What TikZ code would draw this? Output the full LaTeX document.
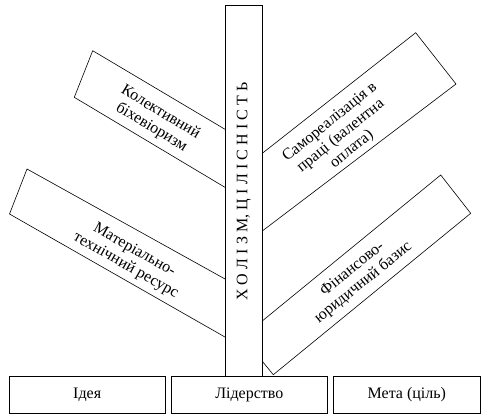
\documentclass[tikz,border=0pt]{standalone}
\usepackage{fontspec}
\setmainfont{Liberation Serif}
\newcommand\lsp{\hspace{4.2pt}}
\begin{document}
\begin{tikzpicture}[x=1pt,y=-1pt,
  line width=0.6pt,
  board/.style={draw=black, fill=white, line join=miter},
  boardtext/.style={font=\fontsize{16}{17.5}\selectfont, align=center, inner sep=0pt},
  basebox/.style={draw=black, fill=white},
  basetext/.style={font=\fontsize{16}{17.5}\selectfont, inner sep=0pt}]
\useasboundingbox (0,0) rectangle (481,415);
% boards (drawn first, the pole covers their inner ends)
\draw[board] (92.7,50.7) -- (74.3,97.3) -- (240,196.3) -- (240,138.2) -- cycle;
\draw[board] (27,169) -- (9.5,214) -- (240,345.6) -- (240,287.3) -- cycle;
\draw[board] (415.7,32.7) -- (456,84) -- (245,244.1) -- (245,166.9) -- cycle;
\draw[board] (440.7,175) -- (470.7,213.3) -- (273.3,374.7) -- (242.5,337.1) -- cycle;
\node[boardtext, rotate=-31] (ta) at (156,120) {Колективний\\біхевіоризм};
\node[boardtext, rotate=-29.5] (tb) at (130,258) {Матеріально-\\технічний ресурс};
\node[boardtext, rotate=39] (tc) at (341,136) {Самореалізація в\\праці (валентна\\оплата)};
\node[boardtext, rotate=39] (td) at (358,276) {Фінансово-\\юридичний базис};
% pole
\draw[board] (225.3,5) rectangle (262.3,376);
\node[boardtext, rotate=90] (pole) at (243.8,191.5) {Х\lsp О\lsp Л\lsp І\lsp З\lsp М,\lsp Ц\lsp І\lsp Л\lsp І\lsp С\lsp Н\lsp І\lsp С\lsp Т\lsp Ь};
% base boxes
\node[basebox, minimum width=155.7pt, minimum height=37pt, inner sep=0pt] (idea) at (87.15,394.5) {};
\node[basebox, minimum width=156pt, minimum height=37pt, inner sep=0pt] (lead) at (249.3,394.5) {};
\node[basebox, minimum width=146.3pt, minimum height=37pt, inner sep=0pt] (goal) at (406.85,394.5) {};
\node[basetext] at (idea.center) {Ідея};
\node[basetext] at (lead.center) {Лідерство};
\node[basetext] at (goal.center) {Мета (ціль)};
\end{tikzpicture}
\end{document}
